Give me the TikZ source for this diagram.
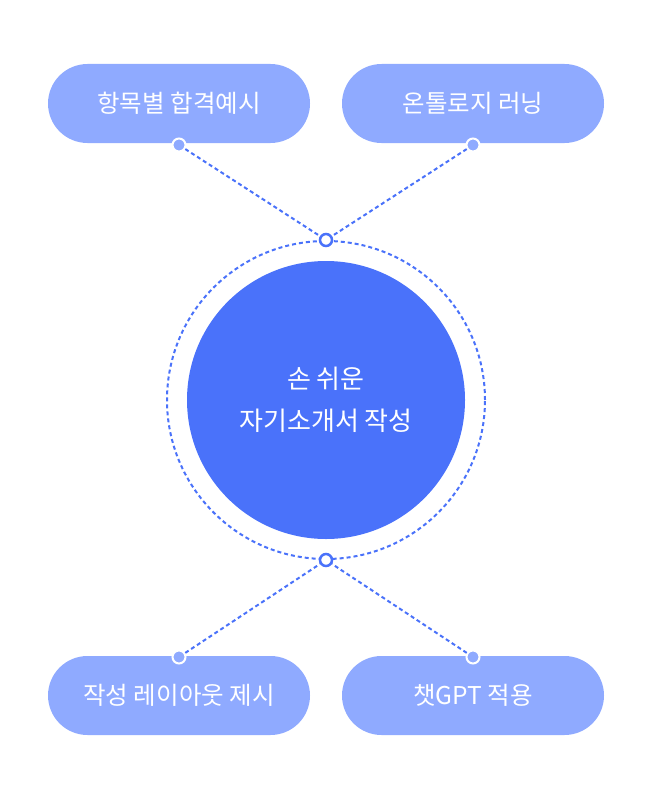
\documentclass[tikz,border=0pt]{standalone}
\usepackage{fontspec}
\setmainfont{Noto Sans CJK KR}
\definecolor{pill}{HTML}{8FAAFF}
\definecolor{core}{HTML}{4A72FA}
\definecolor{dashc}{HTML}{4A72FA}
\begin{document}
\begin{tikzpicture}[x=1pt,y=-1pt,
  pillbox/.style={rectangle, rounded corners=39.5pt, fill=pill, minimum width=262pt, minimum height=79pt, inner sep=0pt, text=white, font=\fontsize{24.5pt}{28pt}\selectfont},
  dotnode/.style={circle, fill=pill, draw=white, line width=2pt, minimum size=13pt, inner sep=0pt},
  ringdot/.style={circle, fill=white, draw=dashc, line width=2.5pt, minimum size=12pt, inner sep=0pt},
  link/.style={draw=dashc, line width=2pt, dash pattern=on 4pt off 3pt}]
\useasboundingbox (0,0) rectangle (652,800);
\node[circle, draw=dashc, line width=2pt, dash pattern=on 4pt off 3pt, minimum size=318pt, inner sep=0pt] (ring) at (326,400) {};
\node[circle, fill=core, minimum size=278pt, inner sep=0pt, text=white, align=center, font=\fontsize{26pt}{42pt}\selectfont] (core) at (326,400) {손 쉬운\\자기소개서 작성};
\node[pillbox] (p1) at (179,103.5) {항목별 합격예시};
\node[pillbox] (p2) at (473,103.5) {온톨로지 러닝};
\node[pillbox] (p3) at (179,695.5) {작성 레이아웃 제시};
\node[pillbox] (p4) at (473,695.5) {챗GPT 적용};
\node[dotnode] (d1) at (179,145) {};
\node[dotnode] (d2) at (473,145) {};
\node[dotnode] (d3) at (179,657) {};
\node[dotnode] (d4) at (473,657) {};
\node[ringdot] (rt) at (326,240) {};
\node[ringdot] (rb) at (326,560) {};
\draw[link] (d1) -- (rt);
\draw[link] (d2) -- (rt);
\draw[link] (d3) -- (rb);
\draw[link] (d4) -- (rb);
\end{tikzpicture}
\end{document}
